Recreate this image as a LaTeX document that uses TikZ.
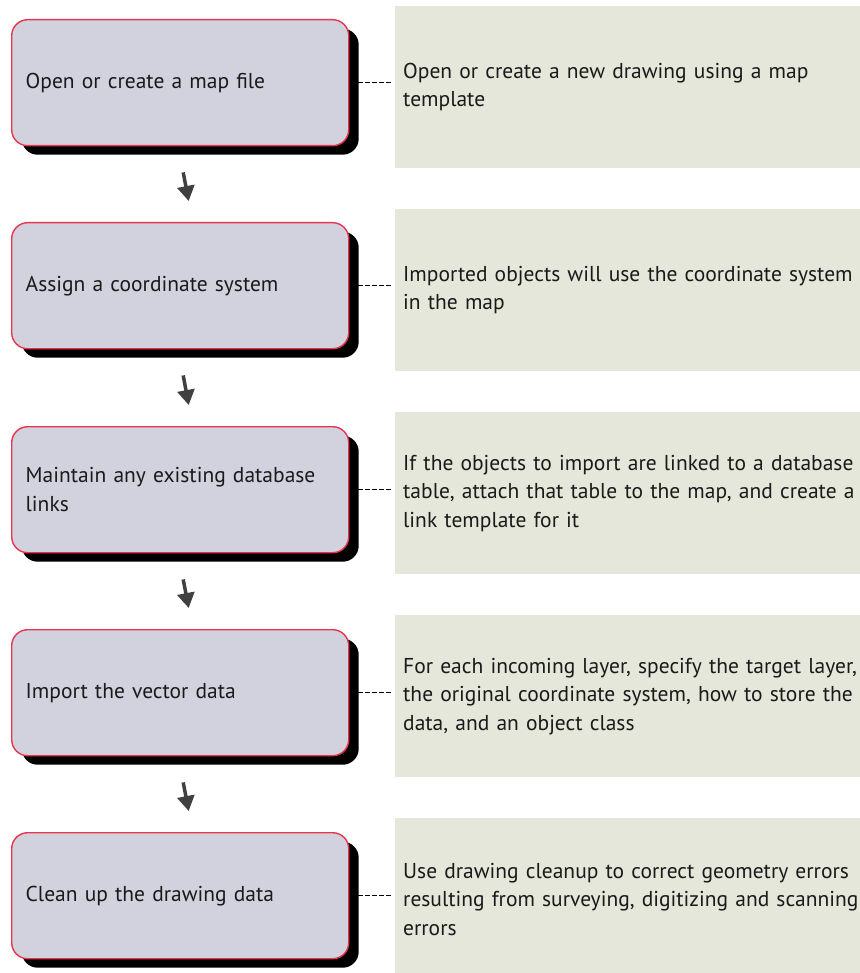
\documentclass[tikz,border=0pt]{standalone}
\usepackage{fontspec}
\setmainfont{PT Sans}
\usetikzlibrary{arrows.meta,shadows,calc}
\definecolor{stepfill}{HTML}{D2D2DF}
\definecolor{stepline}{HTML}{E8344E}
\definecolor{notefill}{HTML}{E4E7DA}
\definecolor{arrowgray}{HTML}{404040}
\definecolor{inktext}{HTML}{1A1A1A}

\begin{document}
\begin{tikzpicture}[x=1pt,y=-1pt,
  txt/.style={font=\fontsize{21.5}{28.5}\selectfont, text=inktext},
  stepbox/.style={txt, anchor=north west, draw=stepline, line width=1.4pt,
    fill=stepfill, rounded corners=16pt,
    minimum width=337pt, minimum height=126pt,
    inner xsep=14pt, inner ysep=0pt, text width=309pt, align=left,
    drop shadow={shadow xshift=10pt, shadow yshift=-9pt, opacity=1, fill=black}},
  notebox/.style={txt, anchor=north west, fill=notefill,
    minimum width=540pt, minimum height=162pt,
    inner xsep=8pt, inner ysep=0pt, text width=524pt, align=left},
  linkline/.style={draw=black, line width=1pt, dash pattern=on 4.5pt off 2.5pt},
  flowarrow/.style={draw=arrowgray, line width=3.5pt,
    -{Triangle[width=17pt,length=15pt]}}
]
\useasboundingbox (0,0) rectangle (859,973);

% left column: the workflow steps
\node[stepbox] (s1) at (11,19)  {Open or create a map file};
\node[stepbox] (s2) at (11,222) {Assign a coordinate system};
\node[stepbox] (s3) at (11,426) {Maintain any existing database\\links};
\node[stepbox] (s4) at (11,629) {Import the vector data};
\node[stepbox] (s5) at (11,832) {Clean up the drawing data};

% right column: notes for each step (they run off the right edge)
\node[notebox] (n1) at (395,6)   {Open or create a new drawing using a map\\template};
\node[notebox] (n2) at (395,209) {Imported objects will use the coordinate system\\in the map};
\node[notebox] (n3) at (395,412) {If the objects to import are linked to a database\\table, attach that table to the map, and create a\\link template for it};
\node[notebox] (n4) at (395,615) {For each incoming layer, specify the target layer,\\the original coordinate system, how to store the\\data, and an object class};
\node[notebox] (n5) at (395,818) {Use drawing cleanup to correct geometry errors\\resulting from surveying, digitizing and scanning\\errors};

% dashed links from each step to its note
\foreach \i in {1,...,5}{
  \draw[linkline] ($(s\i.east)+(9,0)$) -- ($(n\i.west |- s\i.east)+(-3,0)$);
}

% flow arrows between consecutive steps
\foreach \i/\j in {1/2,2/3,3/4,4/5}{
  \draw[flowarrow] ($(s\i.south)+(3,26)$) -- ($(s\j.north)+(8.5,-21)$);
}
\end{tikzpicture}
\end{document}
